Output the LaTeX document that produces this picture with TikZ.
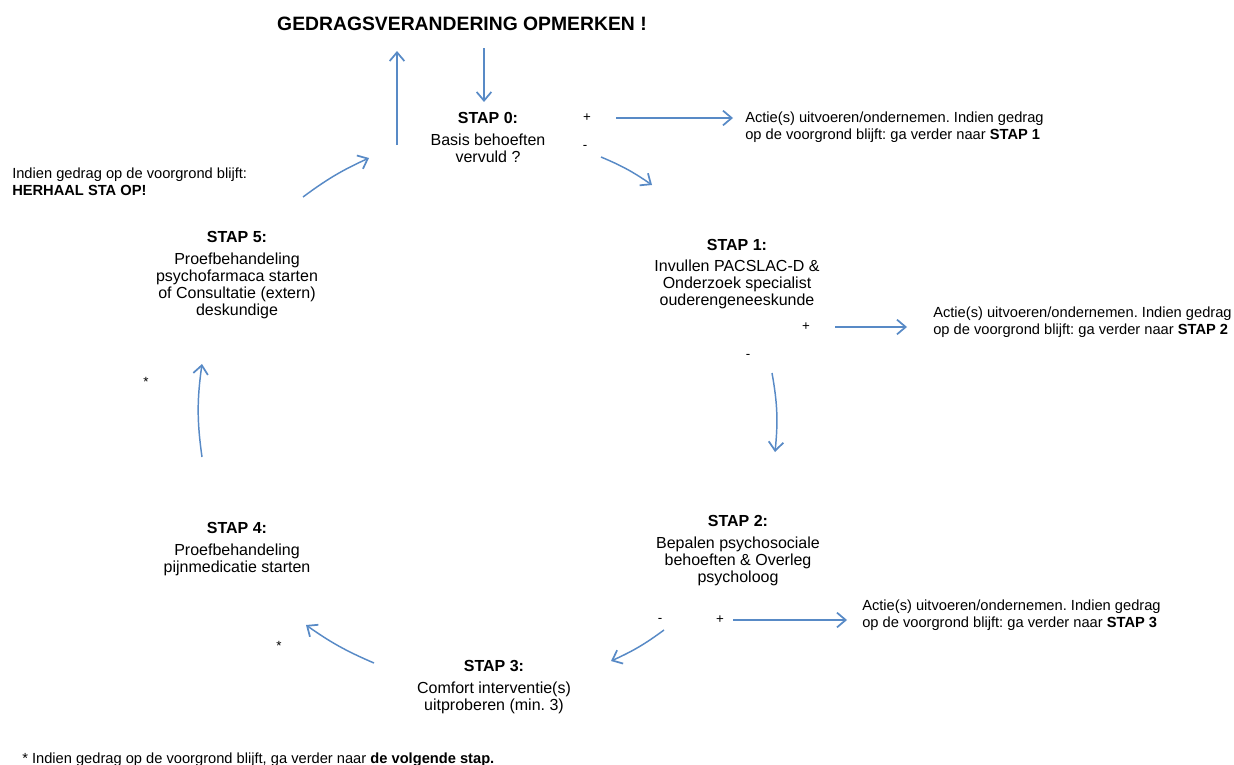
\documentclass[tikz,border=0pt]{standalone}
\usepackage{fontspec}
\setmainfont{Liberation Sans}
\usetikzlibrary{arrows.meta}
\frenchspacing

\definecolor{flowblue}{RGB}{88,138,198}

\tikzset{
  flow/.style = {draw = flowblue, line width = 1.1pt,
    -{Straight Barb[length = 6.5pt, width = 11pt, line width = 1.3pt]}},
  stapbox/.style = {align = center, anchor = north, inner sep = 0pt,
    font = \fontsize{12}{12.75}\selectfont},
  sidetext/.style = {align = left, anchor = west, inner sep = 0pt,
    font = \fontsize{11}{12.4}\selectfont},
  sign/.style = {inner sep = 0pt, font = \fontsize{10}{12}\selectfont}
}

\begin{document}
\begin{tikzpicture}[x = 0.75pt, y = -0.75pt]
  \useasboundingbox (0, 0) rectangle (1234, 764);

  % title and the six steps
  \node[font = \fontsize{14.5}{16}\selectfont\bfseries] (title) at (462, 24)
    {GEDRAGSVERANDERING OPMERKEN !};
  \node[stapbox] (s0) at (488, 112)
    {\textbf{STAP 0:}\\[4pt] Basis behoeften\\ vervuld ?};
  \node[stapbox] (s1) at (737, 239)
    {\textbf{STAP 1:}\\[3pt] Invullen PACSLAC-D \&\\ Onderzoek specialist\\ ouderengeneeskunde};
  \node[stapbox] (s2) at (738, 515)
    {\textbf{STAP 2:}\\[4pt] Bepalen psychosociale\\ behoeften \& Overleg\\ psycholoog};
  \node[stapbox] (s3) at (494, 660)
    {\textbf{STAP 3:}\\[4pt] Comfort interventie(s)\\ uitproberen (min. 3)};
  \node[stapbox] (s4) at (237, 522)
    {\textbf{STAP 4:}\\[4pt] Proefbehandeling\\ pijnmedicatie starten};
  \node[stapbox] (s5) at (237, 231)
    {\textbf{STAP 5:}\\[4pt] Proefbehandeling\\ psychofarmaca starten\\ of Consultatie (extern)\\ deskundige};

  % actions on the + side
  \node[sidetext] (act0) at (745, 127)
    {Actie(s) uitvoeren/ondernemen. Indien gedrag\\ op de voorgrond blijft: ga verder naar \textbf{STAP 1}};
  \node[sidetext] (act1) at (933, 322)
    {Actie(s) uitvoeren/ondernemen. Indien gedrag\\ op de voorgrond blijft: ga verder naar \textbf{STAP 2}};
  \node[sidetext] (act2) at (862, 615)
    {Actie(s) uitvoeren/ondernemen. Indien gedrag\\ op de voorgrond blijft: ga verder naar \textbf{STAP 3}};
  \node[sidetext] (repeat) at (12, 182)
    {Indien gedrag op de voorgrond blijft:\\ \textbf{HERHAAL STA OP!}};
  \node[sidetext, anchor = base west] (note) at (22, 763)
    {* Indien gedrag op de voorgrond blijft, ga verder naar \textbf{de volgende stap.}};

  % + and - signs, stars
  \node[sign] (plus0) at (587, 118) {+};
  \node[sign] (min0) at (585, 147) {-};
  \node[sign] (plus1) at (806, 327) {+};
  \node[sign] (min1) at (748, 356) {-};
  \node[sign] (min2) at (660, 620) {-};
  \node[sign] (plus2) at (720, 620) {+};
  \node[sign] (star4) at (279, 646) {*};
  \node[sign] (star5) at (146, 382) {*};

  % arrow ends
  \coordinate (upA) at (397, 145);
  \coordinate (upB) at (397, 51);
  \coordinate (downA) at (484, 48);
  \coordinate (downB) at (484, 102);
  \coordinate (p0A) at (616, 118);
  \coordinate (p0B) at (733, 118);
  \coordinate (m0A) at (601, 157);
  \coordinate (m0B) at (652, 185);
  \coordinate (p1A) at (835, 327);
  \coordinate (p1B) at (907, 327);
  \coordinate (m1A) at (772, 373);
  \coordinate (m1B) at (775, 452);
  \coordinate (p2A) at (733, 620);
  \coordinate (p2B) at (847, 620);
  \coordinate (m2A) at (664, 630);
  \coordinate (m2B) at (611, 661);
  \coordinate (m3A) at (374, 663);
  \coordinate (m3B) at (306, 625);
  \coordinate (m4A) at (202, 457);
  \coordinate (m4B) at (202, 364);
  \coordinate (m5A) at (303, 197);
  \coordinate (m5B) at (369, 158);

  \draw[flow] (upA) -- (upB);
  \draw[flow] (downA) -- (downB);
  \draw[flow] (p0A) -- (p0B);
  \draw[flow] (p1A) -- (p1B);
  \draw[flow] (p2A) -- (p2B);
  \draw[flow] (m0A) to[bend left = 6] (m0B);
  \draw[flow] (m1A) to[bend left = 8] (m1B);
  \draw[flow] (m2A) to[bend left = 6] (m2B);
  \draw[flow] (m3A) to[bend left = 6] (m3B);
  \draw[flow] (m4A) to[bend left = 8] (m4B);
  \draw[flow] (m5A) to[bend left = 6] (m5B);
\end{tikzpicture}
\end{document}
